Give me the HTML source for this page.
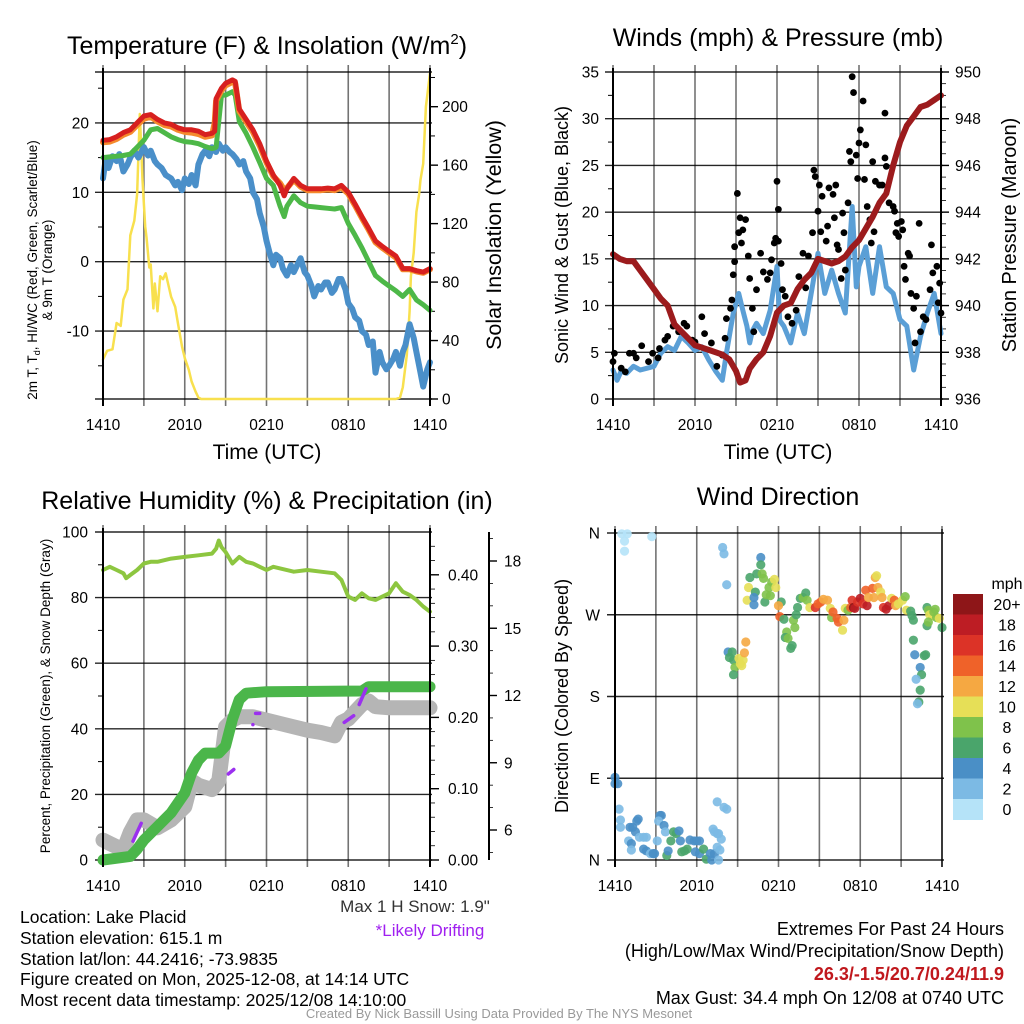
<!DOCTYPE html>
<html><head><meta charset="utf-8">
<style>
html,body{margin:0;padding:0;background:#fff;}
svg{display:block;font-family:"Liberation Sans",Arial,sans-serif;}
</style></head>
<body>
<svg id="chart" width="1024" height="1024" viewBox="0 0 1024 1024" xmlns="http://www.w3.org/2000/svg">
<rect width="1024" height="1024" fill="#fff"/>
<!-- titles -->
<text x="267" y="54" font-size="25" text-anchor="middle">Temperature (F) &amp; Insolation (W/m<tspan font-size="15" dy="-10">2</tspan><tspan dy="10">)</tspan></text>
<text x="778" y="46" font-size="25" text-anchor="middle">Winds (mph) &amp; Pressure (mb)</text>
<text x="267" y="509" font-size="25" text-anchor="middle">Relative Humidity (%) &amp; Precipitation (in)</text>
<text x="778" y="505" font-size="25" text-anchor="middle">Wind Direction</text>
<!-- axis titles -->
<text x="267" y="459" font-size="21" text-anchor="middle">Time (UTC)</text>
<text x="778" y="459" font-size="21" text-anchor="middle">Time (UTC)</text>
<text transform="translate(37,270) rotate(-90)" font-size="13.5" text-anchor="middle">2m T, T<tspan font-size="9" dy="3">d</tspan><tspan dy="-3">, HI/WC (Red, Green, Scarlet/Blue)</tspan></text>
<text transform="translate(52,270) rotate(-90)" font-size="13.5" text-anchor="middle">&amp; 9m T (Orange)</text>
<text transform="translate(501,235) rotate(-90)" font-size="21.5" text-anchor="middle">Solar Insolation (Yellow)</text>
<text transform="translate(568,235) rotate(-90)" font-size="18" text-anchor="middle">Sonic Wind &amp; Gust (Blue, Black)</text>
<text transform="translate(1016,235) rotate(-90)" font-size="20" text-anchor="middle">Station Pressure (Maroon)</text>
<text transform="translate(50,696) rotate(-90)" font-size="13.5" text-anchor="middle">Percent, Precipitation (Green), &amp; Snow Depth (Gray)</text>
<text transform="translate(568,696) rotate(-90)" font-size="18" text-anchor="middle">Direction (Colored By Speed)</text>
<!-- footer -->
<g font-size="17.5">
<text x="20" y="923">Location: Lake Placid</text>
<text x="20" y="944">Station elevation: 615.1 m</text>
<text x="20" y="965">Station lat/lon: 44.2416; -73.9835</text>
<text x="20" y="985">Figure created on Mon, 2025-12-08, at 14:14 UTC</text>
<text x="20" y="1006">Most recent data timestamp: 2025/12/08 14:10:00</text>
</g>
<text x="415" y="912" font-size="17" fill="#333" text-anchor="middle">Max 1 H Snow: 1.9"</text>
<text x="430" y="936" font-size="17" fill="#a020f0" text-anchor="middle">*Likely Drifting</text>
<g font-size="18" text-anchor="end">
<text x="1004" y="935">Extremes For Past 24 Hours</text>
<text x="1004" y="957">(High/Low/Max Wind/Precipitation/Snow Depth)</text>
<text x="1004" y="980" fill="#c0181d" font-weight="bold">26.3/-1.5/20.7/0.24/11.9</text>
<text x="1004" y="1004">Max Gust: 34.4 mph On 12/08 at 0740 UTC</text>
</g>
<text x="499" y="1018" font-size="13" fill="#999" text-anchor="middle">Created By Nick Bassill Using Data Provided By The NYS Mesonet</text>
<g id="layer"></g>
</svg>
<script>
// ---------- data ----------
const xTickLabels = ["1410","2010","0210","0810","1410"];
// temperature panel
const tempTimes = [0,0.5,1,1.5,2,2.5,3,3.5,4,4.5,5,5.5,6,6.5,7,7.5,8,8.2,8.3,8.7,9,9.5,9.7,10,10.5,11,11.5,12,12.5,13,13.3,13.5,14,14.5,15,15.5,16,16.5,17,17.5,18,18.5,19,19.5,20,20.5,21,21.5,22,22.5,23,23.5,24];
const tempRed =   [17.5,17.6,18,18.6,19,20,21,21.2,20.5,20,19.8,19.3,19,19,18.8,18.3,18.5,18.8,23.5,25,25.7,26.2,26,22,20.5,19,17,14.5,12.5,11,9.5,10.5,12,11,10.5,10.5,10.5,10.6,10.5,11,10,8.3,6.5,4.8,3,2.2,1.5,0.8,-1,-1,-1.3,-1.5,-1];
const temp9m =    [17.2,17.3,17.7,18.3,18.7,19.7,20.6,20.9,20.2,19.7,19.5,19,18.7,18.6,18.4,18,18.2,20,23.2,24.7,25.4,25.9,25.7,21.7,20.2,18.7,16.7,14.3,12.3,11.3,10.3,10.6,11.8,10.8,10.3,10.3,10.3,10.4,10.3,10.7,9.8,8.1,6.3,4.6,2.8,2,1.3,0.6,-1.1,-1.1,-1.4,-1.6,-1.1];
const tempGreen = [15,15.1,15.2,15.3,15.5,16.5,17.5,19,19.2,18.6,18,17.6,17.3,17.2,17,16.6,16.3,16.4,16.5,24,24,24.5,24,20.2,18.5,16.5,14.3,12,11,8,6.5,8,9.5,8.5,8,7.9,7.8,7.7,7.6,7.8,5.5,3.8,2,0,-2,-2.8,-3.5,-4.2,-5,-4,-5.5,-6.2,-7];
const dewTimes = [0,0.2,0.4,0.7,1,1.2,1.5,1.8,2,2.3,2.6,3,3.3,3.5,3.8,4,4.3,4.6,5,5.3,5.5,5.8,6,6.3,6.5,6.8,7,7.3,7.5,7.8,8,8.3,8.5,8.8,9,9.3,9.5,9.8,10,10.3,10.5,10.8,11,11.3,11.5,11.8,12,12.2,12.5,12.7,13,13.2,13.5,13.8,14,14.3,14.5,14.8,15,15.3,15.5,15.8,16,16.3,16.5,16.8,17,17.3,17.5,17.8,18,18.3,18.5,18.8,19,19.3,19.5,19.8,20,20.3,20.5,20.8,21,21.3,21.5,21.8,22,22.2,22.5,22.8,23,23.3,23.5,23.8,24];
const tempDew = [12,14.8,13.5,15.2,14.5,15.5,13,14,15,16,15,16.5,15.3,16,14.5,14,13.5,12.5,12,11,11.5,10.3,12,11.2,12.5,11,14,15.5,16,15.2,16.5,15.8,17,16,16.5,15.8,15.5,14.8,14,14.5,13,12,10,9,7,5,3,1.5,-0.5,1,0.5,-1,-2,-0.5,-1.5,-0.3,0.5,-1.5,-2,-3.5,-5,-3.5,-4,-3,-3,-4.5,-4,-2.5,-2.5,-4,-6,-6.8,-8,-8.5,-10,-10.5,-12,-11.5,-16,-13,-14.5,-15.5,-15,-14,-13,-15,-13,-12,-9,-11,-13,-16,-18,-15.5,-14.5];
const solarTimes = [0,0.3,0.7,1,1.3,1.5,1.8,2,2.3,2.5,2.7,2.9,3.1,3.2,3.4,3.5,3.7,3.8,4,4.2,4.4,4.6,4.8,5,5.3,5.5,5.8,6,6.3,6.5,6.8,7,7.2,21.5,21.8,22,22.3,22.5,22.6,22.8,23,23.2,23.3,23.5,23.7,24];
const solarVals = [27,33,34,52,50,68,75,112,122,140,195,150,118,110,90,92,62,79,60,84,82,86,78,70,63,52,36,28,20,12,5,1,0,0,1,8,30,60,84,100,128,140,150,161,200,223];
// wind panel
const windTimes = [0,0.3,0.6,1,1.5,2,2.5,3,3.5,4,4.5,5,5.5,6,6.5,7,7.5,8,8.3,8.8,9.2,9.5,9.8,10,10.2,10.5,11,11.5,12,12.2,12.5,13,13.5,14,14.5,15,15.5,16,16.5,17,17.5,17.8,18,18.5,19,19.5,20,20.5,21,21.5,22,22.5,23,23.5,24];
const windSpeed = [3.1,2,3,2.75,3.5,3.1,3.3,3.5,4.9,5.6,5.2,6.7,6,5.2,5.6,4.2,3,2,4.9,9.2,11.3,9.5,7.8,6,7.3,8.1,7,9.5,14.2,8.4,7.8,6,9.2,7,11.3,15.6,11.3,13.8,11.3,9.2,20.6,12,14.2,16.3,11.3,16.3,12,11.3,8.5,7.8,3.1,6.7,9.2,11.3,7];
const gustTimes = [0,0.1,0.6,0.9,1.2,1.5,1.7,2.1,2.6,2.9,3.3,3.4,3.8,4,4.4,4.8,5.2,5.4,5.8,6,6.5,6.7,7.2,7.6,8,8.2,8.3,8.6,8.7,8.8,8.9,8.9,9.1,9.2,9.3,9.5,9.7,9.4,9.9,10,10.2,10.3,10.5,10.8,11,11.3,11.5,11.6,11.8,11.9,12,12.1,12.1,12.3,12.4,12.6,12.8,13.1,13.4,13.6,13.9,14.1,14.3,14.6,14.7,14.8,15,15.1,15.2,15.3,15.6,15.7,15.8,16.1,16.2,16.3,16.4,16.5,16.7,16.8,16.9,17,17.2,17.3,17.4,17.5,17.6,17.8,17.9,18,18.1,18.3,18.4,18.5,18.6,18.8,18.9,19,19.1,19.2,19.5,19.7,19.9,19.9,20,20.2,20.5,20.6,20.7,20.8,20.9,21.1,21.2,21.3,21.4,21.6,21.7,21.8,22,22.1,22.2,22.4,22.5,22.7,22.9,23.2,23.3,23.4,23.7,23.8,23.9,24];
const gustSpeed = [4,4.9,3.3,2.9,4.9,4.9,4.4,5.7,4,4.9,4.4,5.4,6.3,6.7,7.8,7.2,8.1,7.8,6.3,6.1,8.8,7,6,3.5,4.7,6.5,8.6,9.7,10.6,13.3,14.7,16.3,22,17.8,19.4,18.1,19.2,16.7,15.3,12.9,9.7,7.2,11.7,15.6,13.6,12.8,13.5,14.9,16.7,17.2,23.3,20.3,16.9,14.5,11.7,11,8.8,8.1,9.5,13.1,15.6,11.9,15.3,17.8,24.5,23.8,20.1,22.9,17.9,21.7,16.9,18.5,22.6,21.9,19.4,22.9,16.5,16,12.9,19.9,17.8,13.8,21,26.5,25.4,34.5,32.8,26.1,23.6,27.4,28.8,31.9,23.5,27.2,20.6,19.2,16.7,25.4,17.9,23.3,22.9,22.9,25.8,30.6,24.9,21,20.6,20.1,17.8,18.8,17.4,19,18.1,14.2,12.8,15.6,15.3,11.3,9.7,6,11,18.8,7.2,8.8,8.5,11.7,16.5,13.5,14.2,10.3,12.4,9.2];
const presTimes = [0,0.5,1,1.5,2,3,3.5,4,4.5,5,5.5,6,7,8,8.5,9,9.3,9.7,10,10.5,11,11.5,12,12.5,13,13.5,14,14.5,15,16,16.5,17,17.5,18,19,19.5,20,20.5,21,21.5,22,22.5,23,23.5,24];
const presVals = [942.2,942,941.9,941.9,941.5,940.7,940.3,940,939.2,938.9,938.6,938.3,938.1,937.9,937.7,937.2,936.7,936.8,937.3,937.7,938,938.7,939.7,940,940.1,940.7,941.1,941.4,942,941.8,941.9,942.1,942.5,942.8,943.8,944.4,944.8,946,947,947.7,948.1,948.5,948.6,948.8,949];
// humidity panel
const rhTimes = [0,0.5,1,1.5,1.7,2,2.5,3,3.5,4,5,6,7,8,8.3,8.5,8.7,9,9.5,10,10.5,11,11.5,12,12.5,13,14,15,16,17,17.5,18,18.5,19,19.5,20,21,21.5,22,22.5,23,23.5,24];
const rhVals = [88.4,89.4,88.4,87.4,85.9,86.9,88.4,90.4,90.9,90.9,91.9,92.4,92.9,93.4,94.9,97.4,95.4,93.9,90.4,92.4,90.9,90.4,89.4,88.4,89.4,88.9,87.9,88.4,87.9,87.4,85.4,80.3,79.3,81.3,79.8,79.3,81.3,84.4,81.8,80.8,79.3,77.3,75.7];
const precipTimes = [0,2,2.5,3,4,5,6,6.5,7,7.5,8.5,9,9.5,10,10.5,12,19,19.5,24];
const precipVals = [0,0.005,0.015,0.028,0.047,0.066,0.094,0.122,0.14,0.15,0.15,0.16,0.197,0.225,0.234,0.236,0.237,0.243,0.243];
const snowTimes = [0,0.5,1,1.5,2,2.5,3,4,5,6,6.5,7,8,8.5,9,9.5,10,11,12,13,14,15,16,17,17.5,18,19,19.5,20,21,22,24];
const snowVals = [5.55,5.4,5.25,5.1,5.9,6.45,6.45,6.1,6.45,7.04,8.2,8.0,7.8,8.2,10.6,10.9,11.05,11.05,10.9,10.75,10.6,10.45,10.35,10.2,10.8,10.95,11.6,11.75,11.5,11.45,11.45,11.45];
const driftStart = [2.2,9.2,11.0,11.2,17.7,18.8];
const driftEnd   = [2.8,9.6,11.0,11.5,18.4,19.3];
const driftLow   = [5.5,8.5,10.7,11.2,10.8,11.6];
const driftHigh  = [6.3,8.7,10.7,11.2,11.1,12.3];
// wind direction panel
const dirTimes = [0.5,0.9,0.7,0.7,2.7,7.9,8.0,8.2,10.7,10.7,10.4,9.9,10.8,10.9,9.8,10.3,9.7,10.2,10.2,11.0,11.3,11.5,11.7,11.8,11.4,11.1,12.2,12.0,12.1,12.4,13.1,13.2,12.6,12.5,12.7,13.0,12.9,13.3,13.4,13.6,13.8,14.0,14.1,14.3,14.7,14.9,15.1,15.3,15.6,15.8,15.9,16.0,16.3,16.4,16.7,16.8,16.9,17.1,17.3,17.4,17.5,17.6,17.8,18.0,18.2,18.4,18.5,18.6,18.9,19.0,19.1,19.2,19.3,19.5,19.6,19.7,19.9,20.1,20.3,20.5,20.6,20.8,21.1,21.3,21.4,21.7,21.8,21.9,21.9,22.0,22.4,22.7,22.8,22.5,22.1,22.4,22.3,22.2,22.9,23.0,23.1,23.3,23.4,23.5,23.6,23.8,24.0,22.9,23.0,8.3,8.4,8.6,8.7,8.8,8.7,9.1,9.2,9.4,9.5,9.6,9.3,0,0,0.2,0.3,0.4,0.4,1.1,1.3,1.5,1.7,1.6,1.0,1.2,1.2,1.8,2.1,2.3,2.1,2.3,2.6,2.8,2.9,3.1,3.3,3.4,3.2,3.6,3.7,3.8,3.9,4.1,4.3,4.5,4.7,4.8,4.9,5.1,5.3,5.5,5.8,6.0,6.2,5.9,6.2,6.5,6.7,7.0,7.1,7.3,7.6,7.5,7.7,7.8,7.2,7.3,7.5,7.6,7.5,8.0,8.2];
const dirDeg = [359,359,351,340,356,344,337,303,333,325,315,311,315,310,300,295,286,289,281,284,300,306,309,300,291,292,284,280,268,265,264,256,251,245,244,236,233,270,278,288,289,294,286,278,278,282,284,287,286,277,267,273,266,262,253,264,277,275,278,286,278,277,284,288,282,297,280,289,299,289,311,313,300,295,289,278,276,280,288,286,280,282,286,290,275,274,269,264,242,226,212,225,226,204,199,187,174,172,278,275,270,269,273,276,267,266,256,258,262,229,223,229,220,212,204,222,216,220,228,240,214,91,84,84,56,44,36,36,36,31,45,43,21,18,11,25,25,25,12,10,7,7,7,21,49,49,43,38,31,5,10,21,31,29,32,21,9,10,12,22,21,21,21,9,7,12,1,7,0,7,0,14,11,23,34,31,29,29,64,58,56];
const dirSpeed = [1.5,1.5,1.5,1.5,1.5,2,2,2,4,6,6,6,8,8,10,6,10,4,4,6,8,8,10,10,8,8,6,12,14,6,8,8,8,6,8,6,6,6,6,6,8,6,8,10,16,14,14,12,12,10,8,14,14,14,10,12,10,8,14,16,20,18,16,18,16,14,18,12,14,12,12,10,12,10,12,16,18,18,10,14,12,10,10,8,10,6,6,6,6,4,4,6,6,6,2,6,6,2,6,8,10,10,8,8,8,10,6,6,8,4,6,6,6,8,6,10,10,10,12,12,10,4,4,4,2,2,2,4,4,4,4,4,2,4,2,2,2,2,4,4,2,4,4,2,4,4,2,4,2,6,4,6,6,6,4,4,6,6,6,4,4,4,4,4,4,6,6,4,4,4,2,2,2,2,2,2,2,2,2,2,2];
const speedBinLabels = ["0","2","4","6","8","10","12","14","16","18","20+"];
const speedBinColors = ["#b5e3f8","#7cbae4","#4a8fc6","#4aa56b","#7fc24b","#e6df57","#f5a842","#ef6229","#dc3327","#bd1d24","#8e1618"];

// ---------- helpers ----------
const NS = "http://www.w3.org/2000/svg";
const layer = document.getElementById('layer');
function mk(tag, attrs, parent) {
  const e = document.createElementNS(NS, tag);
  for (const k in attrs) e.setAttribute(k, attrs[k]);
  (parent || layer).appendChild(e);
  return e;
}
function lin(d0, d1, r0, r1) { return v => r0 + (v - d0) * (r1 - r0) / (d1 - d0); }
function pathFrom(ts, vs, xf, yf) {
  return ts.map((t, i) => (i ? 'L' : 'M') + xf(t).toFixed(1) + ',' + yf(vs[i]).toFixed(1)).join('');
}
const TICK_FS = 15.5;
function frame(L, T, R, B, name, xf) {
  const g = mk('g', {});
  
  
  for (let h = 0; h <= 24; h += 3) {
    const x = xf(h);
    const l = mk('line', {x1: x, x2: x, y1: T - 7, y2: B + 7, stroke: '#000', 'stroke-opacity': 0.55, 'stroke-width': 1.6}, g);
    
    
  }
  for (let i = 0; i < 5; i++) {
    const tx = mk('text', {x: xf(i * 6), y: B + 31, 'font-size': TICK_FS, 'text-anchor': 'middle'}, g);
    tx.textContent = xTickLabels[i];
    
    
  }
  return g;
}
function hgrid(g, L, R, y, label, lx) {
  const l = mk('line', {x1: L - 8, x2: R + 2, y1: y, y2: y, stroke: '#000', 'stroke-width': 1.4, 'stroke-opacity': 0.85}, g);
  
  
  if (label !== null) {
    const t = mk('text', {x: lx, y: y + 5.5, 'font-size': TICK_FS, 'text-anchor': 'end'}, g);
    t.textContent = label;
    
    
  }
}
function poly(ts, vs, xf, yf, color, w, name, parent) {
  const p = mk('path', {d: pathFrom(ts, vs, xf, yf), fill: 'none', stroke: color, 'stroke-width': w, 'stroke-linejoin': 'round', 'stroke-linecap': 'round'}, parent);
  
  
  return p;
}

// ---------- panel 1: temperature ----------
(function () {
  const L = 103, R = 430, T = 72, B = 399;
  const x = lin(0, 24, L, R);
  const y = lin(0, 10, 261.7, 192.3);
  const yS = lin(0, 200, 399, 106.7);
  const g = frame(L, T, R, B, 'temp', x);
  [20, 10, 0, -10].forEach(v => hgrid(g, L, R, y(v), String(v), 89));
  hgrid(g, L, R, T, null, 0);
  hgrid(g, L, R, B, null, 0);
  for (let v = -15; v <= 25; v += 10) mk('line', {x1: L - 5, x2: L, y1: y(v), y2: y(v), stroke: '#000', 'stroke-width': 1}, g);
  for (let v = 0; v <= 200; v += 40) {
    mk('line', {x1: R, x2: R + 8, y1: yS(v), y2: yS(v), stroke: '#000', 'stroke-width': 1.4}, g);
    const t = mk('text', {x: R + 12, y: yS(v) + 5.5, 'font-size': TICK_FS}, g);
    t.textContent = String(v);
    
    
  }
  for (let v = 20; v <= 220; v += 20) if (v % 40) mk('line', {x1: R, x2: R + 5, y1: yS(v), y2: yS(v), stroke: '#000', 'stroke-width': 1}, g);
  poly(solarTimes, solarVals, x, yS, '#f8e04e', 2.5, 'solar-insolation-line', g);
  poly(dewTimes, tempDew, x, y, '#4a8fc9', 6, 'dewpoint-line', g);
  poly(tempTimes, tempGreen, x, y, '#4db848', 5, 'heat-index-line', g);
  poly(tempTimes, temp9m, x, y, '#f58a2c', 6, 'temp-9m-line', g);
  poly(tempTimes, tempRed, x, y, '#d7201f', 5, 'temp-2m-line', g);
  mk('line', {x1: L, x2: L, y1: T - 4, y2: B + 7, stroke: '#000', 'stroke-width': 2}, g);
  mk('line', {x1: R, x2: R, y1: T - 4, y2: B + 7, stroke: '#000', 'stroke-width': 2}, g);
})();

// ---------- panel 2: wind ----------
(function () {
  const L = 613, R = 941, T = 72, B = 399;
  const x = lin(0, 24, L, R);
  const y = lin(0, 35, 399, 72);
  const yP = lin(936, 950, 399, 72);
  const g = frame(L, T, R, B, 'wind', x);
  for (let v = 0; v <= 35; v += 5) hgrid(g, L, R, y(v), String(v), 599);
  for (let v = 2.5; v <= 35; v += 5) mk('line', {x1: L - 5, x2: L, y1: y(v), y2: y(v), stroke: '#000', 'stroke-width': 1}, g);
  for (let v = 936; v <= 950; v += 2) {
    mk('line', {x1: R, x2: R + 8, y1: yP(v), y2: yP(v), stroke: '#000', 'stroke-width': 1.4}, g);
    const t = mk('text', {x: R + 14, y: yP(v) + 5.5, 'font-size': TICK_FS}, g);
    t.textContent = String(v);
    
    
  }
  for (let v = 936.5; v < 950; v += 0.5) if (v % 2) mk('line', {x1: R, x2: R + 5, y1: yP(v), y2: yP(v), stroke: '#000', 'stroke-width': 0.8}, g);
  poly(windTimes, windSpeed, x, y, '#5b9fd6', 5, 'sustained-wind-line', g);
  gustTimes.forEach((t, i) => {
    const c = mk('circle', {cx: x(t), cy: y(gustSpeed[i]), r: 3.4, fill: '#000'}, g);
    
    
  });
  poly(presTimes, presVals, x, yP, '#9c1b1d', 6, 'pressure-line', g);
  mk('line', {x1: L, x2: L, y1: T - 4, y2: B + 7, stroke: '#000', 'stroke-width': 2}, g);
  mk('line', {x1: R, x2: R, y1: T - 4, y2: B + 7, stroke: '#000', 'stroke-width': 2}, g);
})();

// ---------- panel 3: humidity ----------
(function () {
  const L = 103, R = 430, T = 532, B = 860;
  const x = lin(0, 24, L, R);
  const y = lin(0, 100, 860, 532);
  const yPr = lin(0, 0.1, 860, 788.7);
  const ySn = lin(6, 18, 830, 561);
  const g = frame(L, T, R, B, 'rh', x);
  for (let v = 0; v <= 100; v += 20) hgrid(g, L, R, y(v), String(v), 88);
  for (let v = 10; v <= 90; v += 20) mk('line', {x1: L - 5, x2: L, y1: y(v), y2: y(v), stroke: '#000', 'stroke-width': 1}, g);
  for (let v = 0; v <= 0.4001; v += 0.1) {
    mk('line', {x1: R, x2: R + 9, y1: yPr(v), y2: yPr(v), stroke: '#000', 'stroke-width': 1.4}, g);
    const t = mk('text', {x: R + 18, y: yPr(v) + 5.5, 'font-size': TICK_FS}, g);
    t.textContent = v.toFixed(2);
    
    
  }
  for (let v = 0.02; v < 0.46; v += 0.02) mk('line', {x1: R, x2: R + 5, y1: yPr(v), y2: yPr(v), stroke: '#000', 'stroke-width': 0.8}, g);
  const sx = 489;
  const sa = mk('line', {x1: sx, x2: sx, y1: 532, y2: 860, stroke: '#000', 'stroke-width': 2}, g);
  
  
  for (let v = 6; v <= 18; v += 3) {
    mk('line', {x1: sx, x2: sx + 8, y1: ySn(v), y2: ySn(v), stroke: '#000', 'stroke-width': 1.4}, g);
    const t = mk('text', {x: sx + 15, y: ySn(v) + 5.5, 'font-size': TICK_FS}, g);
    t.textContent = String(v);
    
    
  }
  for (let v = 5; v <= 19; v += 1) if (v % 3) mk('line', {x1: sx, x2: sx + 4, y1: ySn(v), y2: ySn(v), stroke: '#000', 'stroke-width': 0.8}, g);
  poly(snowTimes, snowVals, x, ySn, '#b5b5b5', 15, 'snow-depth-line', g);
  poly(precipTimes, precipVals, x, yPr, '#4bb64a', 11, 'precip-line', g);
  driftStart.forEach((s, i) => {
    poly([s, driftEnd[i]], [driftLow[i], driftHigh[i]], x, ySn, '#9b30ef', 3.5, 'drifting-segment', g);
  });
  poly(rhTimes, rhVals, x, y, '#8dc640', 4, 'relative-humidity-line', g);
  mk('line', {x1: L, x2: L, y1: T - 4, y2: B + 7, stroke: '#000', 'stroke-width': 2}, g);
  mk('line', {x1: R, x2: R, y1: T - 4, y2: B + 7, stroke: '#000', 'stroke-width': 2}, g);
})();

// ---------- panel 4: wind direction ----------
(function () {
  const L = 615, R = 942, T = 533, B = 860;
  const x = lin(0, 24, L, R);
  const y = lin(0, 360, 860, 533);
  const g = frame(L, T, R, B, 'direction', x);
  const dl = ['N', 'E', 'S', 'W', 'N'];
  for (let i = 0; i < 5; i++) hgrid(g, L, R, y(i * 90), dl[i], 600);
  dirTimes.forEach((t, i) => {
    const bin = Math.min(10, Math.floor(dirSpeed[i] / 2));
    const c = mk('circle', {cx: x(t), cy: y(dirDeg[i]), r: 4.6, fill: speedBinColors[bin], 'fill-opacity': 0.9}, g);
    
    
  });
  mk('line', {x1: L, x2: L, y1: T - 4, y2: B + 7, stroke: '#000', 'stroke-width': 2}, g);
  mk('line', {x1: R, x2: R, y1: T - 4, y2: B + 7, stroke: '#000', 'stroke-width': 2, 'stroke-opacity': 0.6}, g);
  const cb = mk('g', {});
  
  
  const ct = mk('text', {x: 1007, y: 589, 'font-size': 16, 'text-anchor': 'middle'}, cb);
  ct.textContent = 'mph';
  const top = 594, h = 20.5;
  for (let i = 0; i < 11; i++) {
    const idx = 10 - i;
    const r = mk('rect', {x: 953, y: top + i * h, width: 30, height: h + 0.5, fill: speedBinColors[idx]}, cb);
    
    
    const t = mk('text', {x: 1007, y: top + i * h + h / 2 + 5.5, 'font-size': 16, 'text-anchor': 'middle'}, cb);
    t.textContent = speedBinLabels[idx];
    
    
  }
})();
</script>
</body></html>
